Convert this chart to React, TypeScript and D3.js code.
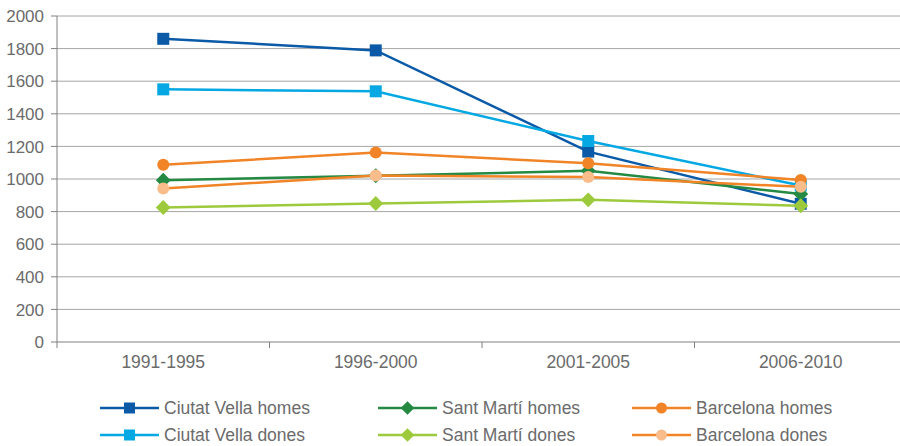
import React from "react";
import * as d3 from "d3";

const categories = ["1991-1995", "1996-2000", "2001-2005", "2006-2010"];
const yTicks = [0, 200, 400, 600, 800, 1000, 1200, 1400, 1600, 1800, 2000];

const ciutatVellaHomes = [1860, 1789, 1168, 848];
const ciutatVellaDones = [1550, 1538, 1233, 960];
const santMartiHomes = [992, 1020, 1050, 908];
const santMartiDones = [825, 850, 872, 836];
const barcelonaHomes = [1087, 1162, 1097, 994];
const barcelonaDones = [942, 1022, 1012, 952];

type Series = { name: string; values: number[]; color: string; marker: "square" | "diamond" | "circle" };

const series: Series[] = [
  { name: "Ciutat Vella homes", values: ciutatVellaHomes, color: "#0a5aa8", marker: "square" },
  { name: "Ciutat Vella dones", values: ciutatVellaDones, color: "#05a8e2", marker: "square" },
  { name: "Sant Martí homes", values: santMartiHomes, color: "#248a43", marker: "diamond" },
  { name: "Sant Martí dones", values: santMartiDones, color: "#9dca3c", marker: "diamond" },
  { name: "Barcelona homes", values: barcelonaHomes, color: "#f18426", marker: "circle" },
  { name: "Barcelona dones", values: barcelonaDones, color: "#f9bd8c", marker: "circle" },
];

const W = 900;
const H = 446;
const left = 57;
const top = 16;
const bottom = 342;
const bandRight = 907;

function Marker({ kind, x, y, color, size }: { kind: string; x: number; y: number; color: string; size: number }) {
  if (kind === "square") {
    return <rect x={x - size / 2} y={y - size / 2} width={size} height={size} fill={color} />;
  }
  if (kind === "diamond") {
    const s = size * 0.62;
    return <path d={`M${x},${y - s}L${x + s},${y}L${x},${y + s}L${x - s},${y}Z`} fill={color} />;
  }
  return <circle cx={x} cy={y} r={size / 2} fill={color} />;
}

export default function App() {
  const x = d3.scaleBand<string>().domain(categories).range([left, bandRight]);
  const y = d3.scaleLinear().domain([0, 2000]).range([bottom, top]);
  const cx = (c: string) => (x(c) as number) + x.bandwidth() / 2;
  const line = d3
    .line<number>()
    .x((_, i) => cx(categories[i]))
    .y((v) => y(v));

  const font = "'Liberation Sans', Arial, Helvetica, sans-serif";
  const textColor = "#6b6b6b";
  const gridColor = "#a6a6a6";
  const axisColor = "#808080";

  const legendCols = [100, 378, 632];
  const legendRows = [408, 435];

  return (
    <svg width={W} height={H} style={{ position: "absolute", left: 0, top: 0, background: "#fff" }}>
      {yTicks.map((t) => (
        <g key={t}>
          {t > 0 && <line x1={left} x2={W} y1={y(t)} y2={y(t)} stroke={gridColor} strokeWidth={1} />}
          <line x1={left - 6} x2={left} y1={y(t)} y2={y(t)} stroke={axisColor} strokeWidth={1} />
          <text x={left - 13} y={y(t)} dy="0.36em" textAnchor="end" fontFamily={font} fontSize={17} fill={textColor}>
            {t}
          </text>
        </g>
      ))}
      <line x1={left} x2={left} y1={top} y2={bottom + 6} stroke={axisColor} strokeWidth={1} />
      <line x1={left} x2={W} y1={bottom} y2={bottom} stroke={axisColor} strokeWidth={1.2} />
      {categories.map((c, i) => (
        <g key={c}>
          {i > 0 && <line x1={x(c)} x2={x(c)} y1={bottom} y2={bottom + 6} stroke={axisColor} strokeWidth={1} />}
          <text x={cx(c)} y={bottom + 26} textAnchor="middle" fontFamily={font} fontSize={17.5} fill={textColor}>
            {c}
          </text>
        </g>
      ))}
      {series.map((s) => (
        <g key={s.name}>
          <path d={line(s.values) as string} fill="none" stroke={s.marker === "circle" ? "#f18426" : s.color} strokeWidth={2.5} />
          {s.values.map((v, i) => (
            <Marker key={i} kind={s.marker} x={cx(categories[i])} y={y(v)} color={s.color} size={12} />
          ))}
        </g>
      ))}
      {series.map((s, i) => {
        const col = Math.floor(i / 2);
        const row = i % 2;
        const lx = legendCols[col];
        const ly = legendRows[row];
        const lineColor = s.marker === "circle" ? "#f18426" : s.color;
        return (
          <g key={s.name + "-legend"}>
            <line x1={lx} x2={lx + 59} y1={ly} y2={ly} stroke={lineColor} strokeWidth={2.5} />
            <Marker kind={s.marker} x={lx + 29.5} y={ly} color={s.color} size={11} />
            <text x={lx + 64} y={ly} dy="0.36em" fontFamily={font} fontSize={17.5} fill={textColor}>
              {s.name}
            </text>
          </g>
        );
      })}
    </svg>
  );
}
